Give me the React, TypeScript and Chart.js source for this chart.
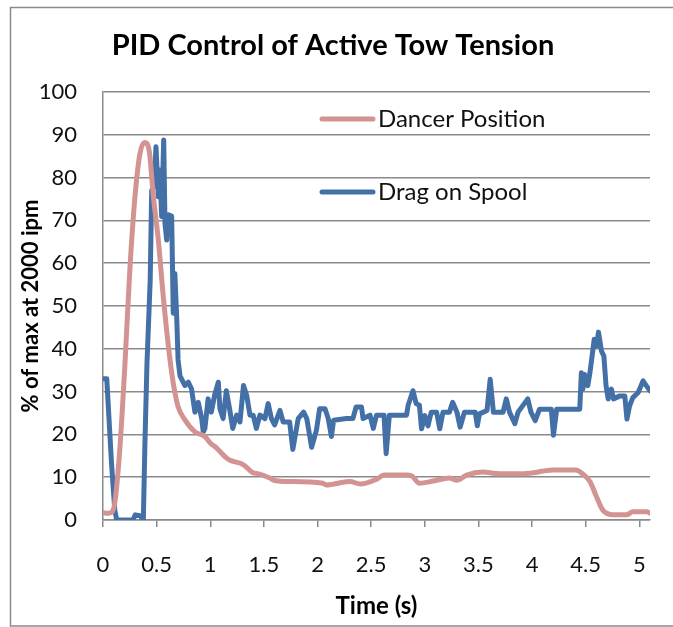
import React, { useEffect, useRef } from "react";
import { Chart, registerables } from "chart.js";

Chart.register(...registerables);

const titleText = "PID Control of Active Tow Tension";
const xTitle = "Time (s)";
const yTitle = "% of max at 2000 ipm";
const seriesNames = ["Dancer Position", "Drag on Spool"];
const seriesColors = ["#D39392", "#4470A8"];

const dancerTime = [0, 0.05, 0.08, 0.11, 0.158, 0.205, 0.25, 0.298, 0.345, 0.39, 0.43, 0.47, 0.516, 0.562, 0.61, 0.655, 0.7, 0.764, 0.857, 0.95, 1.0, 1.06, 1.15, 1.18, 1.31, 1.4, 1.43, 1.556, 1.59, 1.74, 1.77, 2.05, 2.08, 2.3, 2.4, 2.55, 2.62, 2.83, 2.88, 2.95, 3.08, 3.23, 3.3, 3.39, 3.54, 3.7, 3.85, 4.0, 4.19, 4.41, 4.47, 4.54, 4.6, 4.66, 4.76, 4.88, 4.94, 5.07, 5.1];
const dancerValue = [1.7, 1.6, 1.8, 4, 17, 36.6, 58.4, 75.5, 85.7, 88.2, 86.4, 75.5, 65.4, 52.2, 40.5, 32, 26.5, 23.4, 20.6, 19.5, 18, 16.8, 14.5, 14, 12.9, 11, 10.9, 9.8, 9.3, 9.0, 9.0, 8.6, 8.2, 9.0, 8.4, 9.5, 10.5, 10.5, 10.3, 8.6, 9.1, 9.8, 9.3, 10.5, 11.2, 10.8, 10.8, 11, 11.7, 11.7, 10.8, 9, 5.5, 2.3, 1.2, 1.2, 1.9, 1.9, 1.6];

const dragTime = [0, 0.035, 0.08, 0.11, 0.128, 0.28, 0.3, 0.345, 0.376, 0.39, 0.41, 0.44, 0.454, 0.475, 0.494, 0.516, 0.53, 0.547, 0.566, 0.578, 0.594, 0.61, 0.64, 0.655, 0.67, 0.687, 0.7, 0.718, 0.764, 0.795, 0.826, 0.857, 0.888, 0.92, 0.935, 0.95, 0.98, 1.01, 1.04, 1.075, 1.09, 1.12, 1.15, 1.18, 1.21, 1.246, 1.277, 1.31, 1.34, 1.37, 1.4, 1.43, 1.463, 1.51, 1.54, 1.57, 1.6, 1.65, 1.68, 1.74, 1.77, 1.82, 1.87, 1.9, 1.945, 1.99, 2.02, 2.07, 2.1, 2.13, 2.15, 2.27, 2.33, 2.36, 2.41, 2.425, 2.49, 2.52, 2.55, 2.62, 2.64, 2.67, 2.83, 2.845, 2.89, 2.92, 2.95, 2.97, 3.0, 3.03, 3.06, 3.11, 3.14, 3.17, 3.23, 3.26, 3.3, 3.33, 3.37, 3.47, 3.49, 3.51, 3.58, 3.61, 3.64, 3.73, 3.76, 3.79, 3.84, 3.87, 3.96, 3.99, 4.03, 4.07, 4.18, 4.2, 4.23, 4.445, 4.46, 4.475, 4.49, 4.52, 4.54, 4.58, 4.6, 4.62, 4.647, 4.67, 4.69, 4.71, 4.74, 4.76, 4.82, 4.865, 4.885, 4.91, 4.94, 4.99, 5.035, 5.065, 5.1];
const dragValue = [33, 33, 13, 2.3, 0, 0, 1.2, 1, 0, 17, 36.6, 56, 77, 78, 87.2, 75.5, 81.8, 70.9, 88.8, 69.3, 65.4, 71.3, 71, 48.3, 57.6, 47.5, 37.4, 33.7, 31.4, 32.2, 30.6, 25.2, 27.5, 23.7, 20.6, 21.4, 28.3, 25.2, 29.1, 32.2, 26, 23.7, 30.2, 26, 21.4, 24.5, 22.9, 31.4, 29.1, 24.5, 24.5, 21.4, 24.5, 23.7, 27.2, 23.7, 22.2, 25.6, 22.9, 22.9, 16.5, 23.7, 25.2, 23.7, 17, 21, 26, 26, 23.7, 19.5, 23.3, 23.7, 23.7, 26.4, 26.4, 23.7, 24.5, 21.4, 24.5, 24.5, 15.5, 24.5, 24.5, 26.8, 30.2, 27.2, 26.8, 21.3, 24.4, 22, 25.2, 25.2, 21.3, 25.2, 25.2, 27.5, 25.2, 21.7, 25.2, 25.2, 22, 24.8, 25.6, 32.9, 25.2, 25.2, 28.3, 25.2, 22.5, 25.2, 28.3, 25.2, 23.2, 25.9, 25.9, 19.8, 25.9, 25.9, 34.4, 30.6, 34, 31.4, 34.4, 42.2, 40.6, 43.9, 39.5, 38.3, 31.4, 28.3, 30.6, 28.3, 29, 29, 23.6, 26.7, 28.6, 29.8, 32.5, 31.4, 30.2];

const W = 673;
const H = 627;
const GRID = "#8a8a8a";

const decorPlugin = {
  id: "decor",
  afterDraw(chart: any) {
    const ctx = chart.ctx;
    ctx.save();
    ctx.strokeStyle = GRID;
    ctx.lineWidth = 1.5;
    ctx.beginPath();
    ctx.moveTo(W + 2, 7.5);
    ctx.lineTo(10.5, 7.5);
    ctx.lineTo(10.5, 626);
    ctx.lineTo(W + 2, 626);
    ctx.stroke();
    ctx.fillStyle = "#000";
    ctx.font = "bold 29px Lato";
    ctx.textAlign = "center";
    ctx.textBaseline = "middle";
    ctx.fillText(titleText, 333, 46);
    const items = chart.data.datasets;
    const ys = [119, 192];
    items.forEach((ds: any, i: number) => {
      ctx.strokeStyle = ds.borderColor;
      ctx.lineWidth = 5;
      ctx.lineCap = "round";
      ctx.beginPath();
      ctx.moveTo(322, ys[i]);
      ctx.lineTo(373, ys[i]);
      ctx.stroke();
      ctx.fillStyle = "#111";
      ctx.font = "24px Lato";
      ctx.textAlign = "left";
      ctx.textBaseline = "middle";
      ctx.fillText(ds.label, 378, ys[i]);
    });
    ctx.restore();
  },
};

export default function App() {
  const ref = useRef<HTMLCanvasElement | null>(null);
  useEffect(() => {
    if (!ref.current) return;
    const mk = (t: number[], v: number[]) => t.map((x, i) => ({ x, y: v[i] }));
    const chart = new Chart(ref.current, {
      type: "line",
      data: {
        datasets: [
          {
            label: seriesNames[0],
            data: mk(dancerTime, dancerValue),
            borderColor: seriesColors[0],
            borderWidth: 5,
            pointRadius: 0,
            cubicInterpolationMode: "monotone",
            borderJoinStyle: "round",
            borderCapStyle: "round",
          },
          {
            label: seriesNames[1],
            data: mk(dragTime, dragValue),
            borderColor: seriesColors[1],
            borderWidth: 5,
            pointRadius: 0,
            tension: 0,
            borderJoinStyle: "round",
            borderCapStyle: "round",
          },
        ],
      },
      options: {
        responsive: false,
        animation: false,
        events: [],
        layout: { padding: { top: 92, right: 23, bottom: 0, left: 0 } },
        plugins: { legend: { display: false }, title: { display: false }, tooltip: { enabled: false } },
        scales: {
          x: {
            type: "linear",
            min: 0,
            max: 5.1,
            afterFit: (s: any) => { s.height = 107; },
            ticks: {
              stepSize: 0.5,
              includeBounds: false,
              padding: 25,
              color: "#111",
              font: { family: "Lato", size: 22 },
              callback: (v: any) => String(Math.round(Number(v) * 10) / 10),
            },
            grid: { drawOnChartArea: false, drawTicks: true, tickLength: 7, color: GRID, lineWidth: 1.5 },
            border: { color: GRID, width: 1.5 },
            title: { display: true, text: xTitle, color: "#000", font: { family: "Lato", size: 24, weight: "bold" }, padding: { top: 0, bottom: 6 } },
          },
          y: {
            min: 0,
            max: 100,
            afterFit: (s: any) => { s.width = 103; },
            ticks: { stepSize: 10, padding: 26, color: "#111", font: { family: "Lato", size: 22 } },
            grid: { drawTicks: false, color: GRID, lineWidth: 1.5 },
            border: { color: GRID, width: 1.5 },
            title: { display: true, text: yTitle, color: "#000", font: { family: "Lato", size: 22, weight: "bold" }, padding: { top: 18, bottom: 0 } },
          },
        },
      },
      plugins: [decorPlugin],
    } as any);
    return () => chart.destroy();
  }, []);
  return (
    <div style={{ position: "fixed", left: 0, top: 0, width: W, height: H, background: "#fff" }}>
      <canvas ref={ref} width={W} height={H} style={{ width: W, height: H, display: "block" }} />
    </div>
  );
}
